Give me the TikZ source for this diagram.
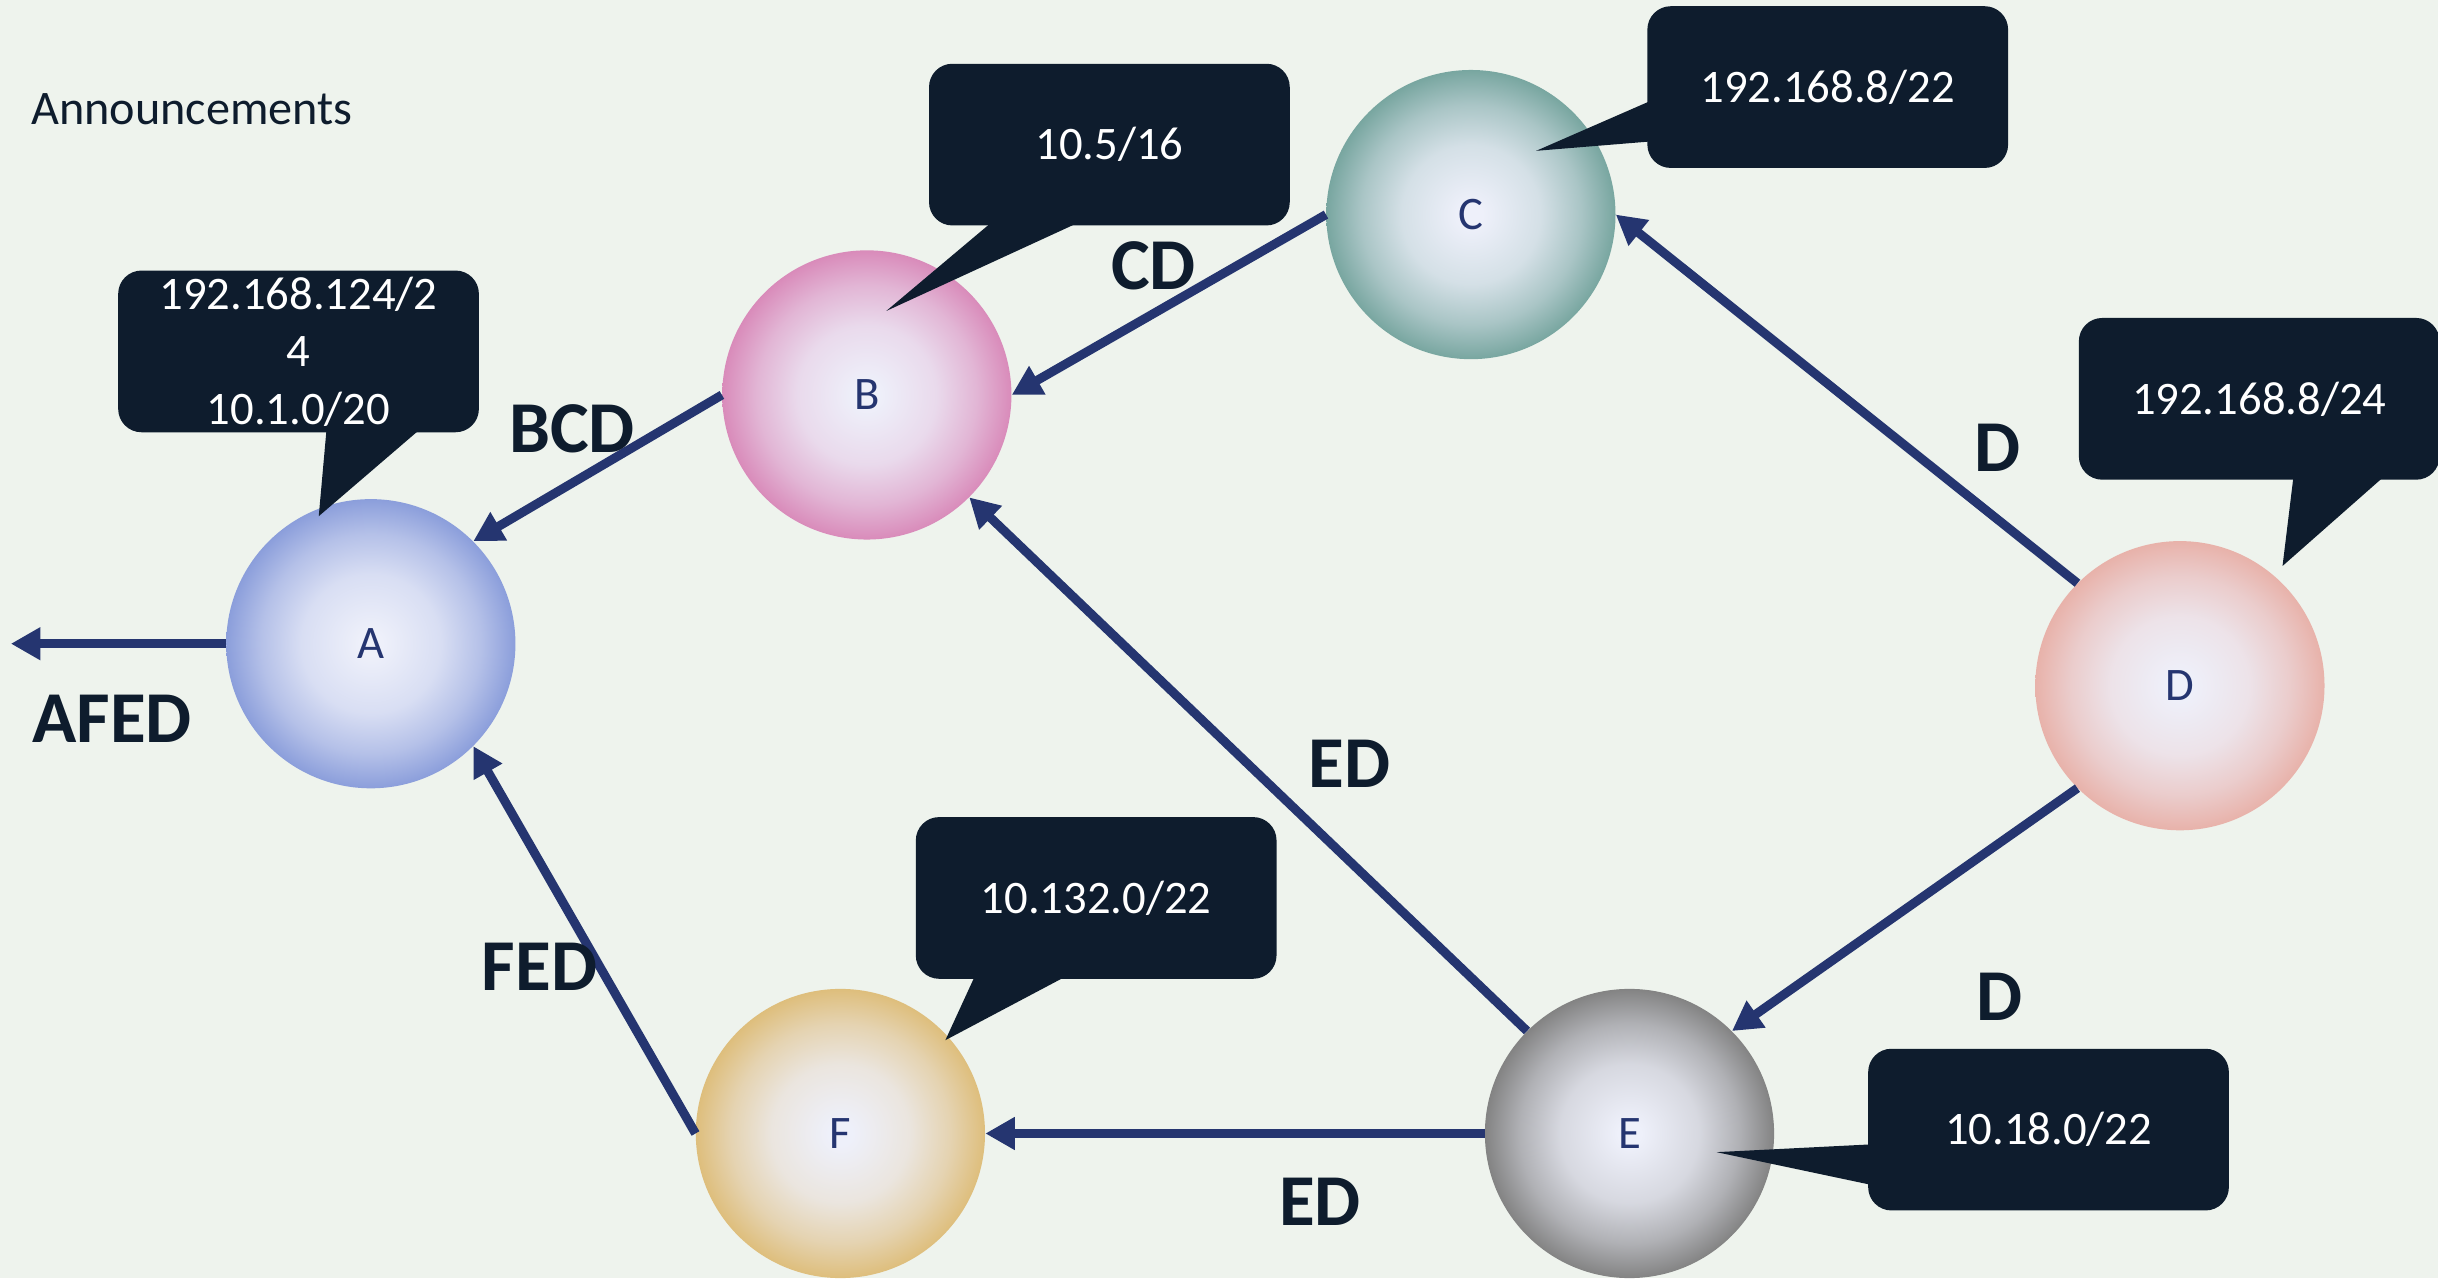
\documentclass[tikz,border=0pt]{standalone}
\usepackage{fontspec}
\setmainfont{Carlito}
\usetikzlibrary{arrows.meta}
\definecolor{bgcol}{HTML}{EEF3ED}
\definecolor{boxdark}{HTML}{0E1C2D}
\definecolor{navy}{HTML}{253570}
\definecolor{ballmid}{HTML}{EEF0FA}
\definecolor{rimA}{HTML}{8B9EDB}
\definecolor{rimB}{HTML}{D98BBA}
\definecolor{rimC}{HTML}{78A6A0}
\definecolor{rimD}{HTML}{E8B2AA}
\definecolor{rimE}{HTML}{838383}
\definecolor{rimF}{HTML}{DEBE7C}
\colorlet{rimcol}{gray}
\pgfdeclareradialshading[rimcol]{glassball}{\pgfpoint{0bp}{0bp}}{%
  color(0bp)=(ballmid); color(2bp)=(ballmid); color(12bp)=(rimcol!22!ballmid);
  color(19bp)=(rimcol!58!ballmid); color(25bp)=(rimcol); color(50bp)=(rimcol)}
\begin{document}
\begin{tikzpicture}[x=1pt,y=-1pt,>={Triangle[length=19pt,width=20pt]},
    router/.style={circle,minimum size=186pt,inner sep=0pt,shade,shading=glassball,
      text=navy,font=\fontsize{30}{36}\selectfont},
    rim/.code={\colorlet{rimcol}{#1}},
    bubble/.style={fill=boxdark,rounded corners=15pt,minimum width=232pt,
      minimum height=104pt,inner sep=0pt,text=white,align=center,
      font=\fontsize{30}{37}\selectfont},
    aspath/.style={text=boxdark,inner sep=0pt,font=\fontsize{47}{50}\selectfont\bfseries},
    link/.style={->,draw=navy,line width=5.8pt}]
  \fill[bgcol] (0,0) rectangle (1568,822);
  \useasboundingbox (0,0) rectangle (1568,822);
  \node[anchor=west,inner sep=0pt,text=boxdark,font=\fontsize{31}{36}\selectfont]
    (title) at (20,70) {Announcements};

  % ルータ
  \node[router,rim=rimA] (A) at (238.5,414) {A};
  \node[router,rim=rimB] (B) at (557.5,254) {B};
  \node[router,rim=rimC] (C) at (946,138) {C};
  \node[router,rim=rimD] (D) at (1402,441) {D};
  \node[router,rim=rimE] (E) at (1048,729) {E};
  \node[router,rim=rimF] (F) at (540.5,729) {F};
  \coordinate (out) at (7,414);

  % 経路広告
  \draw[link] (C.west) -- (B.east);
  \draw[link] (B.west) -- (A.north east);
  \draw[link] (D.north west) -- (C.east);
  \draw[link] (E.north west) -- (B.south east);
  \draw[link] (D.south west) -- (E.north east);
  \draw[link] (E.west) -- (F.east);
  \draw[link] (F.west) -- (A.south east);
  \draw[link] (A.west) -- (out);

  \node[aspath] (lCD) at (742,171) {CD};
  \node[aspath] (lBCD) at (368,276) {BCD};
  \node[aspath] (lDC) at (1285,288) {D};
  \node[aspath] (lEB) at (868,491) {ED};
  \node[aspath] (lAFED) at (72,462) {AFED};
  \node[aspath] (lFED) at (347,622) {FED};
  \node[aspath] (lDE) at (1286,641) {D};
  \node[aspath] (lEF) at (849,773) {ED};

  % プレフィックス
  \node[bubble] (pA) at (192,226) {192.168.124/2\\4\\10.1.0/20};
  \fill[boxdark] ([xshift=18pt,yshift=2pt]pA.south) -- (205,332)
    -- ([xshift=78pt,yshift=2pt]pA.south) -- cycle;
  \node[bubble] (pB) at (713.5,93) {10.5/16};
  \fill[boxdark] ([xshift=-76pt,yshift=2pt]pB.south) -- (570,200)
    -- ([xshift=-20pt,yshift=2pt]pB.south) -- cycle;
  \node[bubble] (pC) at (1175.5,56) {192.168.8/22};
  \fill[boxdark] ([xshift=2pt,yshift=-9pt]pC.west) -- (988,97)
    -- ([xshift=2pt,yshift=-35pt]pC.west) -- cycle;
  \node[bubble] (pD) at (1453,256.5) {192.168.8/24};
  \fill[boxdark] ([xshift=22pt,yshift=2pt]pD.south) -- (1468,364)
    -- ([xshift=80pt,yshift=2pt]pD.south) -- cycle;
  \node[bubble] (pF) at (705,577.5) {10.132.0/22};
  \fill[boxdark] ([xshift=-78pt,yshift=2pt]pF.south) -- (608,669)
    -- ([xshift=-19pt,yshift=2pt]pF.south) -- cycle;
  \node[bubble] (pE) at (1317.5,726.5) {10.18.0/22};
  \fill[boxdark] ([xshift=2pt,yshift=-9.5pt]pE.west) -- (1104,741)
    -- ([xshift=2pt,yshift=-35.5pt]pE.west) -- cycle;
\end{tikzpicture}
\end{document}
